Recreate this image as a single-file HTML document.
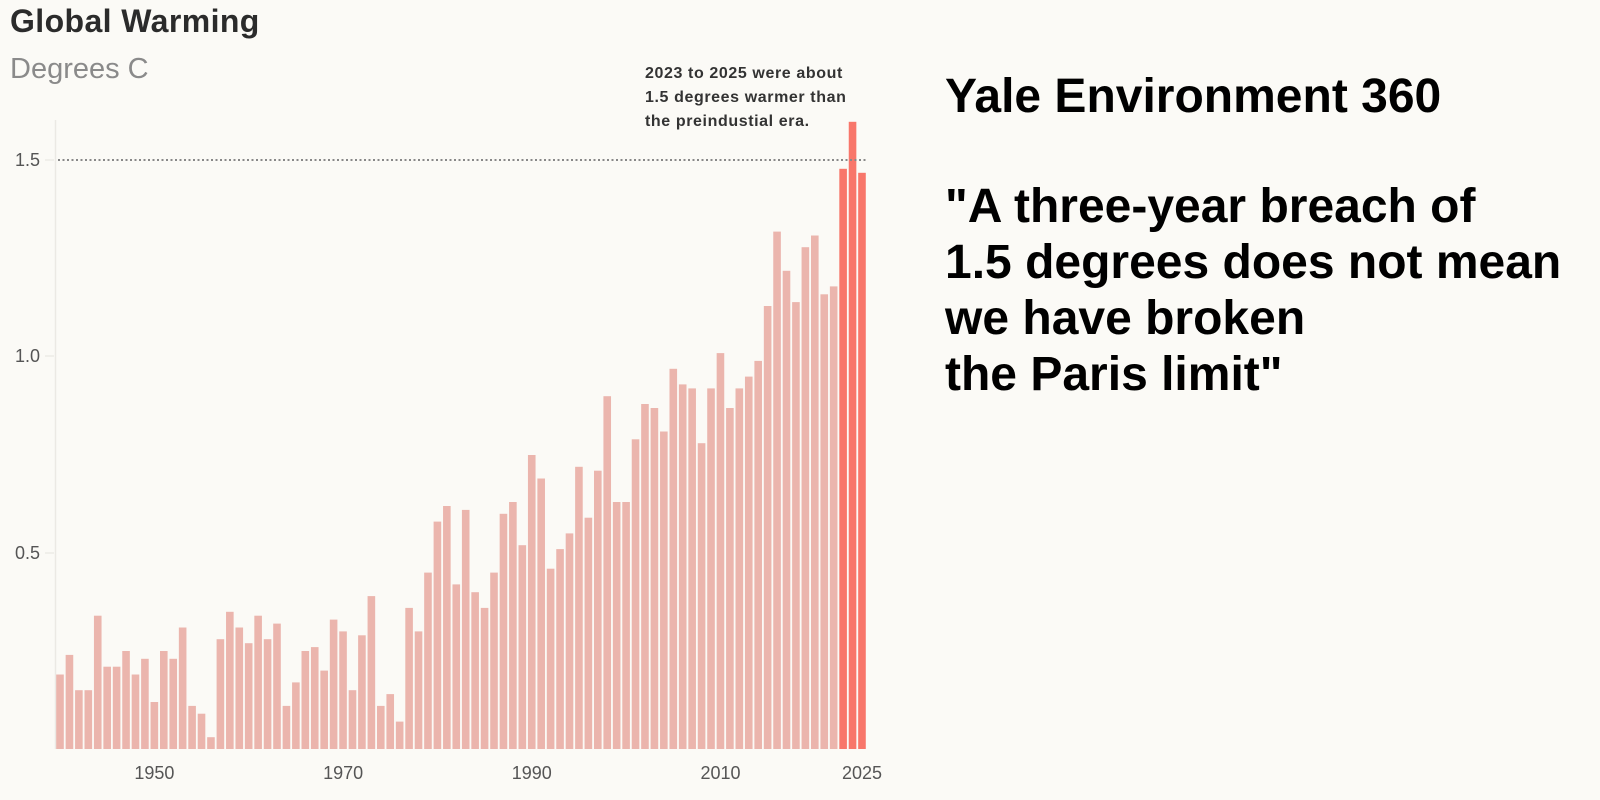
<!DOCTYPE html>
<html><head><meta charset="utf-8">
<style>
html,body{margin:0;padding:0;background:#fbfaf6;}
body{width:1600px;height:800px;overflow:hidden;position:relative;font-family:"Liberation Sans",sans-serif;}
.t{position:absolute;white-space:nowrap;}
</style></head><body>
<div class="t" style="left:10px;top:3px;font-size:32px;font-weight:bold;color:#2b2b2b;letter-spacing:0.4px;">Global Warming</div>
<div class="t" style="left:10px;top:53px;font-size:29px;color:#8a8a8a;">Degrees C</div>
<svg id="c" width="1600" height="800" style="position:absolute;left:0;top:0;"></svg>
<div class="t" style="left:945px;top:69px;font-size:48px;line-height:56px;font-weight:bold;color:#000;">Yale Environment 360</div>
<div class="t" style="left:945px;top:179px;font-size:48px;font-weight:bold;color:#000;line-height:56px;">"A three-year breach of<br>1.5 degrees does not mean<br>we have broken<br>the Paris limit"</div>
<script>
var v=[0.19,0.24,0.15,0.15,0.34,0.21,0.21,0.25,0.19,0.23,0.12,0.25,0.23,0.31,0.11,0.09,0.03,0.28,0.35,0.31,0.27,0.34,0.28,0.32,0.11,0.17,0.25,0.26,0.20,0.33,0.30,0.15,0.29,0.39,0.11,0.14,0.07,0.36,0.30,0.45,0.58,0.62,0.42,0.61,0.40,0.36,0.45,0.60,0.63,0.52,0.75,0.69,0.46,0.51,0.55,0.72,0.59,0.71,0.90,0.63,0.63,0.79,0.88,0.87,0.81,0.97,0.93,0.92,0.78,0.92,1.01,0.87,0.92,0.95,0.99,1.13,1.32,1.22,1.14,1.28,1.31,1.16,1.18,1.48,1.60,1.47];
var s='',y0=749,k=392,p=9.435,c0=60;
s+='<line x1="55.5" y1="120" x2="55.5" y2="749" stroke="#ebe9e4" stroke-width="1.5"/>';
for(var i=0;i<v.length;i++){var cx=c0+i*p,h=v[i]*k;var col=i>=83?'#f8766a':'#ebb5ad';
s+='<rect x="'+(cx-3.8).toFixed(2)+'" y="'+(y0-h).toFixed(1)+'" width="7.6" height="'+h.toFixed(1)+'" fill="'+col+'"/>';}
s+='<line x1="58" y1="160" x2="867" y2="160" stroke="#888" stroke-width="2" stroke-dasharray="2,2.5"/>';
[[1.5,160],[1.0,356],[0.5,553]].forEach(function(a){s+='<text x="40" y="'+(a[1]+6)+'" text-anchor="end" font-family="Liberation Sans" font-size="18" fill="#555">'+a[0].toFixed(1)+'</text><line x1="45" x2="54" y1="'+a[1]+'" y2="'+a[1]+'" stroke="#e6e4df"/>';});
[1950,1970,1990,2010,2025].forEach(function(yr){var x=c0+(yr-1940)*p;s+='<text x="'+x.toFixed(1)+'" y="779" text-anchor="middle" font-family="Liberation Sans" font-size="18" fill="#555">'+yr+'</text>';});
var ann=['2023 to 2025 were about','1.5 degrees warmer than','the preindustial era.'];
ann.forEach(function(t,i){s+='<text x="645" y="'+(78+i*24)+'" font-family="Liberation Sans" font-weight="bold" font-size="16" letter-spacing="0.6" fill="#333">'+t+'</text>';});
document.getElementById('c').innerHTML=s;
</script>
</body></html>
